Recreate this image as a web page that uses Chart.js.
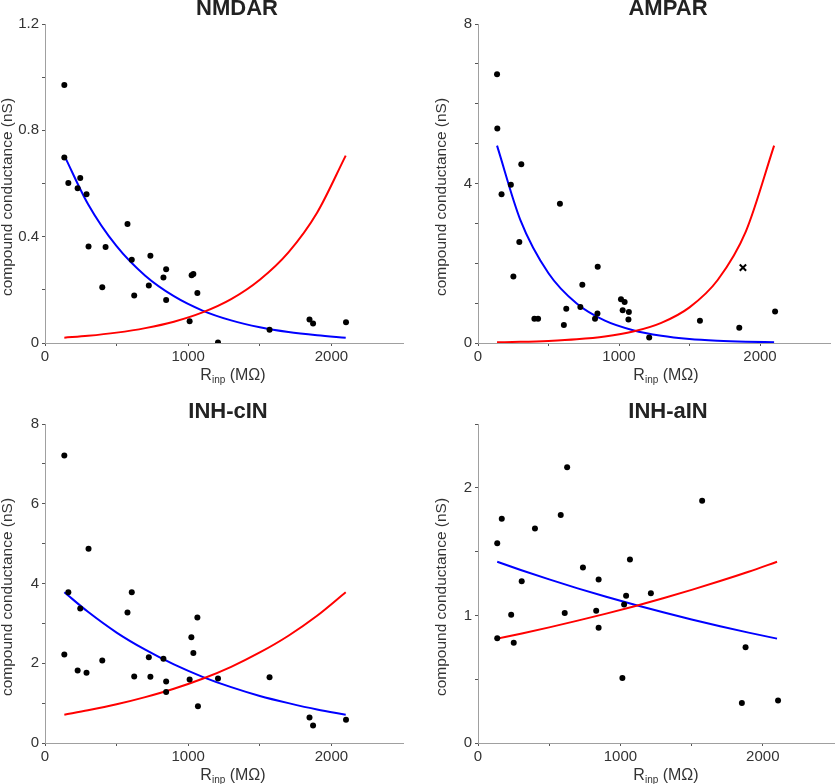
<!DOCTYPE html>
<html><head><meta charset="utf-8">
<script src="https://cdn.jsdelivr.net/npm/chart.js@4/dist/chart.umd.min.js"></script>
<style>
html,body{margin:0;padding:0;background:#fff}
body{width:837px;height:784px;position:relative;overflow:hidden}
canvas{position:absolute}
</style></head><body>
<canvas id="c1" width="418" height="390" style="left:0;top:0"></canvas>
<canvas id="c2" width="419" height="390" style="left:418px;top:0"></canvas>
<canvas id="c3" width="418" height="394" style="left:0;top:390px"></canvas>
<canvas id="c4" width="419" height="394" style="left:418px;top:390px"></canvas>
<script>
// ---- data ----
const fitX = [135, 300, 500, 700, 900, 1100, 1300, 1500, 1700, 1900, 2100];

const nmdarX = [135, 135, 163, 228, 246, 290, 304, 400, 423, 576, 606, 623, 725, 736, 827, 846, 846, 1010, 1024, 1036, 1064, 1208, 1568, 1847, 1872, 2102];
const nmdarY = [0.971, 0.698, 0.602, 0.582, 0.621, 0.560, 0.363, 0.210, 0.361, 0.448, 0.313, 0.179, 0.216, 0.328, 0.246, 0.277, 0.162, 0.082, 0.255, 0.260, 0.188, 0.002, 0.050, 0.088, 0.073, 0.078];
const nmdarBlue = [0.705, 0.523, 0.364, 0.253, 0.176, 0.122, 0.085, 0.059, 0.041, 0.029, 0.020];
const nmdarRed  = [0.020, 0.027, 0.039, 0.056, 0.080, 0.115, 0.165, 0.238, 0.341, 0.490, 0.705];

const amparX = [135, 137, 167, 233, 307, 251, 293, 400, 426, 581, 609, 626, 726, 740, 830, 847, 849, 1014, 1040, 1026, 1070, 1067, 1214, 1574, 1853, 2107];
const amparY = [6.74, 5.38, 3.73, 3.97, 4.48, 1.67, 2.53, 0.61, 0.61, 3.49, 0.45, 0.86, 0.90, 1.46, 0.61, 0.74, 1.91, 1.10, 1.03, 0.82, 0.78, 0.59, 0.14, 0.56, 0.38, 0.79];
const amparOutlierX = [1879];
const amparOutlierY = [1.89];
const amparBlue = [4.95, 3.09, 1.75, 0.99, 0.56, 0.32, 0.18, 0.10, 0.057, 0.032, 0.018];
const amparRed  = [0.018, 0.029, 0.052, 0.091, 0.161, 0.286, 0.505, 0.894, 1.58, 2.80, 4.95];

const cinX = [135, 163, 135, 228, 246, 290, 304, 400, 576, 606, 623, 725, 736, 827, 846, 846, 1010, 1022, 1036, 1064, 1068, 1208, 1568, 1847, 1872, 2102];
const cinY = [7.21, 3.78, 2.22, 1.82, 3.37, 1.76, 4.87, 2.07, 3.27, 3.78, 1.67, 2.15, 1.66, 2.11, 1.54, 1.28, 1.59, 2.65, 2.26, 3.15, 0.92, 1.62, 1.65, 0.64, 0.44, 0.58];
const cinBlue = [3.78, 3.29, 2.77, 2.34, 1.97, 1.66, 1.40, 1.18, 1.00, 0.84, 0.71];
const cinRed  = [0.71, 0.82, 0.97, 1.15, 1.36, 1.61, 1.91, 2.27, 2.69, 3.19, 3.78];

const ainX = [135, 167, 135, 233, 251, 307, 400, 581, 609, 626, 737, 830, 847, 847, 1014, 1026, 1040, 1067, 1214, 1574, 1853, 1879, 2107];
const ainY = [1.565, 1.758, 0.82, 1.005, 0.786, 1.268, 1.682, 1.786, 1.018, 2.161, 1.375, 1.036, 1.281, 0.904, 0.510, 1.086, 1.154, 1.438, 1.174, 1.898, 0.313, 0.75, 0.333];
const ainBlue = [1.42, 1.356, 1.282, 1.212, 1.146, 1.083, 1.024, 0.968, 0.915, 0.865, 0.818];
const ainRed  = [0.818, 0.857, 0.906, 0.959, 1.014, 1.072, 1.134, 1.200, 1.269, 1.342, 1.42];

const xTickLabels = [0, 1000, 2000];
// ---------------------------------------

const pts = (xs, ys) => xs.map((x, i) => ({x: x, y: ys[i]}));

const textPlugin = {
  id: 'panelText',
  afterDraw(chart, args, o) {
    const ctx = chart.ctx;
    ctx.save();
    // title
    ctx.fillStyle = '#222';
    ctx.font = 'bold 22px "Liberation Sans", Arial, sans-serif';
    ctx.textAlign = 'center';
    ctx.textBaseline = 'alphabetic';
    ctx.fillText(o.title, o.titleX, o.titleBase);
    // y title
    ctx.save();
    ctx.translate(o.yTitleX, o.yTitleY);
    ctx.rotate(-Math.PI / 2);
    ctx.font = '15.5px "Liberation Sans", Arial, sans-serif';
    ctx.fillStyle = '#333';
    ctx.textBaseline = 'middle';
    ctx.fillText('compound conductance (nS)', 0, 0);
    ctx.restore();
    // x title with subscript
    ctx.fillStyle = '#333';
    ctx.textAlign = 'left';
    const big = '16px "Liberation Sans", Arial, sans-serif';
    const small = '10px "Liberation Sans", Arial, sans-serif';
    ctx.font = big; const wR = ctx.measureText('R').width;
    ctx.font = small; const wS = ctx.measureText('inp').width;
    ctx.font = big; const wU = ctx.measureText(' (MΩ)').width;
    let x0 = o.xTitleX - (wR + wS + wU) / 2;
    ctx.font = big; ctx.fillText('R', x0, o.xTitleBase);
    ctx.font = small; ctx.fillText('inp', x0 + wR, o.xTitleBase + 3);
    ctx.font = big; ctx.fillText(' (MΩ)', x0 + wR + wS, o.xTitleBase);
    ctx.restore();
  }
};

function makeChart(c) {
  const datasets = [
    {data: pts(c.px, c.py), pointRadius: 3, pointHoverRadius: 3, backgroundColor: '#000', borderColor: '#000', borderWidth: 0, showLine: false, order: 0}
  ];
  if (c.ox) {
    datasets.push({data: pts(c.ox, c.oy), pointStyle: 'crossRot', pointRadius: 4.5, borderWidth: 2, borderColor: '#000', backgroundColor: '#000', showLine: false, order: 0});
  }
  datasets.push({data: pts(fitX, c.blue), showLine: true, borderColor: '#0000ff', borderWidth: 2, pointRadius: 0, cubicInterpolationMode: 'monotone', order: 2});
  datasets.push({data: pts(fitX, c.red), showLine: true, borderColor: '#ff0000', borderWidth: 2, pointRadius: 0, cubicInterpolationMode: 'monotone', order: 1});

  const tickFont = {family: '"Liberation Sans", Arial, sans-serif', size: 15};
  new Chart(document.getElementById(c.id), {
    type: 'scatter',
    data: {datasets},
    plugins: [textPlugin],
    options: {
      responsive: false,
      animation: false,
      events: [],
      layout: {padding: {top: c.area.t, right: c.w - c.area.r, left: 0, bottom: 0}},
      plugins: {
        legend: {display: false},
        tooltip: {enabled: false},
        title: {display: false},
        panelText: c.text
      },
      scales: {
        x: {
          type: 'linear', min: 0, max: 2500,
          afterFit(s) { s.height = c.h - c.area.b; },
          afterBuildTicks(s) { s.ticks = s.ticks.filter(t => t.value < 2500); },
          ticks: {
            stepSize: 500, color: '#333', font: tickFont, padding: 2, maxRotation: 0, autoSkip: false,
            callback: v => xTickLabels.includes(v) ? String(v) : ''
          },
          grid: {drawOnChartArea: false, drawTicks: true, tickLength: 3, tickColor: '#555'},
          border: {display: true, color: '#a0a0a0', width: 1}
        },
        y: {
          type: 'linear', min: 0, max: c.yMax,
          afterFit(s) { s.width = c.area.l; },
          ticks: {
            stepSize: c.yStep, color: '#333', font: tickFont, padding: 3, autoSkip: false,
            callback: v => {
              const r = v / c.yLabelStep;
              return Math.abs(r - Math.round(r)) < 1e-6 ? String(Math.round(v * 10) / 10) : '';
            }
          },
          grid: {drawOnChartArea: false, drawTicks: true, tickLength: 3, tickColor: '#555'},
          border: {display: true, color: '#a0a0a0', width: 1}
        }
      }
    }
  });
}

makeChart({id: 'c1', w: 418, h: 390, area: {l: 45, t: 24, r: 403, b: 343},
  yMax: 1.2, yStep: 0.2, yLabelStep: 0.4, px: nmdarX, py: nmdarY, blue: nmdarBlue, red: nmdarRed,
  text: {title: 'NMDAR', titleX: 237, titleBase: 15, yTitleX: 8, yTitleY: 197, xTitleX: 233, xTitleBase: 380}});
makeChart({id: 'c2', w: 419, h: 390, area: {l: 60, t: 24, r: 418, b: 343},
  yMax: 8, yStep: 1, yLabelStep: 4, px: amparX, py: amparY, ox: amparOutlierX, oy: amparOutlierY, blue: amparBlue, red: amparRed,
  text: {title: 'AMPAR', titleX: 250, titleBase: 15, yTitleX: 24, yTitleY: 197, xTitleX: 248, xTitleBase: 380}});
makeChart({id: 'c3', w: 418, h: 394, area: {l: 45, t: 34, r: 403, b: 353},
  yMax: 8, yStep: 1, yLabelStep: 2, px: cinX, py: cinY, blue: cinBlue, red: cinRed,
  text: {title: 'INH-cIN', titleX: 228, titleBase: 28, yTitleX: 8, yTitleY: 207, xTitleX: 233, xTitleBase: 390}});
makeChart({id: 'c4', w: 419, h: 394, area: {l: 60, t: 34, r: 418, b: 353},
  yMax: 2.5, yStep: 0.5, yLabelStep: 1, px: ainX, py: ainY, blue: ainBlue, red: ainRed,
  text: {title: 'INH-aIN', titleX: 250, titleBase: 28, yTitleX: 24, yTitleY: 207, xTitleX: 248, xTitleBase: 390}});
</script>
</body></html>
